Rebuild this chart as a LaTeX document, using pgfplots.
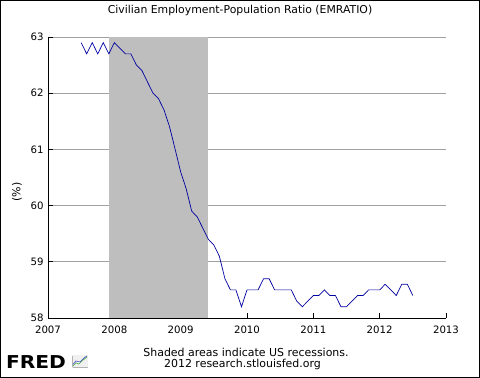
\documentclass[border=0pt]{standalone}
\usepackage{pgfplots}
\pgfplotsset{compat=1.18}
\usepackage{fontspec}
\setmainfont{DejaVu Sans}
\definecolor{recgray}{RGB}{190,190,190}
\definecolor{gridgray}{RGB}{160,160,160}
\definecolor{linenavy}{RGB}{0,0,160}
\pgfplotstableread{
x y
2007.500 62.9
2007.583 62.7
2007.667 62.9
2007.750 62.7
2007.833 62.9
2007.917 62.7
2008.000 62.9
2008.083 62.8
2008.167 62.7
2008.250 62.7
2008.333 62.5
2008.417 62.4
2008.500 62.2
2008.583 62.0
2008.667 61.9
2008.750 61.7
2008.833 61.4
2008.917 61.0
2009.000 60.6
2009.083 60.3
2009.167 59.9
2009.250 59.8
2009.333 59.6
2009.417 59.4
2009.500 59.3
2009.583 59.1
2009.667 58.7
2009.750 58.5
2009.833 58.5
2009.917 58.2
2010.000 58.5
2010.083 58.5
2010.167 58.5
2010.250 58.7
2010.333 58.7
2010.417 58.5
2010.500 58.5
2010.583 58.5
2010.667 58.5
2010.750 58.3
2010.833 58.2
2010.917 58.3
2011.000 58.4
2011.083 58.4
2011.167 58.5
2011.250 58.4
2011.333 58.4
2011.417 58.2
2011.500 58.2
2011.583 58.3
2011.667 58.4
2011.750 58.4
2011.833 58.5
2011.917 58.5
2012.000 58.5
2012.083 58.6
2012.167 58.5
2012.250 58.4
2012.333 58.6
2012.417 58.6
2012.500 58.4
}\emratio
\begin{document}
\begin{tikzpicture}
\useasboundingbox (0,0) rectangle (480bp,378bp);
\begin{axis}[
  at={(48bp,60bp)}, anchor=south west, scale only axis,
  width=398bp, height=281bp,
  xmin=2007, xmax=2013, ymin=58, ymax=63,
  xtick={2007,2008,2009,2010,2011,2012,2013},
  ytick={58,59,60,61,62,63},
  axis x line*=bottom, axis y line*=left,
  axis line style={black, line width=0.8bp, -},
  tick align=inside, major tick length=5bp,
  tick style={black, line width=0.8bp},
  ymajorgrids, grid style={gridgray, line width=0.8bp},
  /pgf/number format/1000 sep={},
  /pgf/number format/assume math mode=true,
  ticklabel style={font=\fontsize{10.2}{12}\selectfont, black},
  xticklabel style={yshift=-4bp},
  yticklabel style={xshift=-1bp},
]
\addplot[fill=recgray, draw=none] coordinates {(2007.917,58) (2007.917,63) (2009.417,63) (2009.417,58)} -- cycle;
\addplot[linenavy, line width=0.7bp] table[x=x, y=y] {\emratio};
\end{axis}
\node at (240bp,367bp) {\fontsize{10.9}{13}\selectfont Civilian Employment-Population Ratio (EMRATIO)};
\node[rotate=90] at (17bp,186bp) {\fontsize{11}{13}\selectfont (\%)};
\node at (246bp,26bp) {\fontsize{11}{13}\selectfont Shaded areas indicate US recessions.};
\node at (242.5bp,14bp) {\fontsize{11}{13}\selectfont 2012 research.stlouisfed.org};
\node at (36bp,16bp) {\scalebox{1.14}[1]{\fontsize{17.8}{18}\selectfont\bfseries FRED}};
\fill[gray!12] (72bp,10bp) rectangle (88bp,23bp);
\draw[gray!60, line width=0.5bp] (72.5bp,10.5bp) -- (72.5bp,22bp);
\draw[gray!60, line width=0.5bp] (72.5bp,10.5bp) -- (87.5bp,10.5bp);
\draw[green!60!black!70, line width=0.7bp] (73bp,12bp) -- (76bp,15bp) -- (79bp,14bp) -- (83bp,18bp) -- (87bp,21bp);
\draw[blue!50!gray, line width=0.6bp] (73bp,13.5bp) -- (76bp,17bp) -- (80bp,16bp) -- (84bp,20bp) -- (87bp,22bp);
\draw[black, line width=1bp] (0.5bp,0.5bp) rectangle (479.5bp,377.5bp);
\end{tikzpicture}
\end{document}
